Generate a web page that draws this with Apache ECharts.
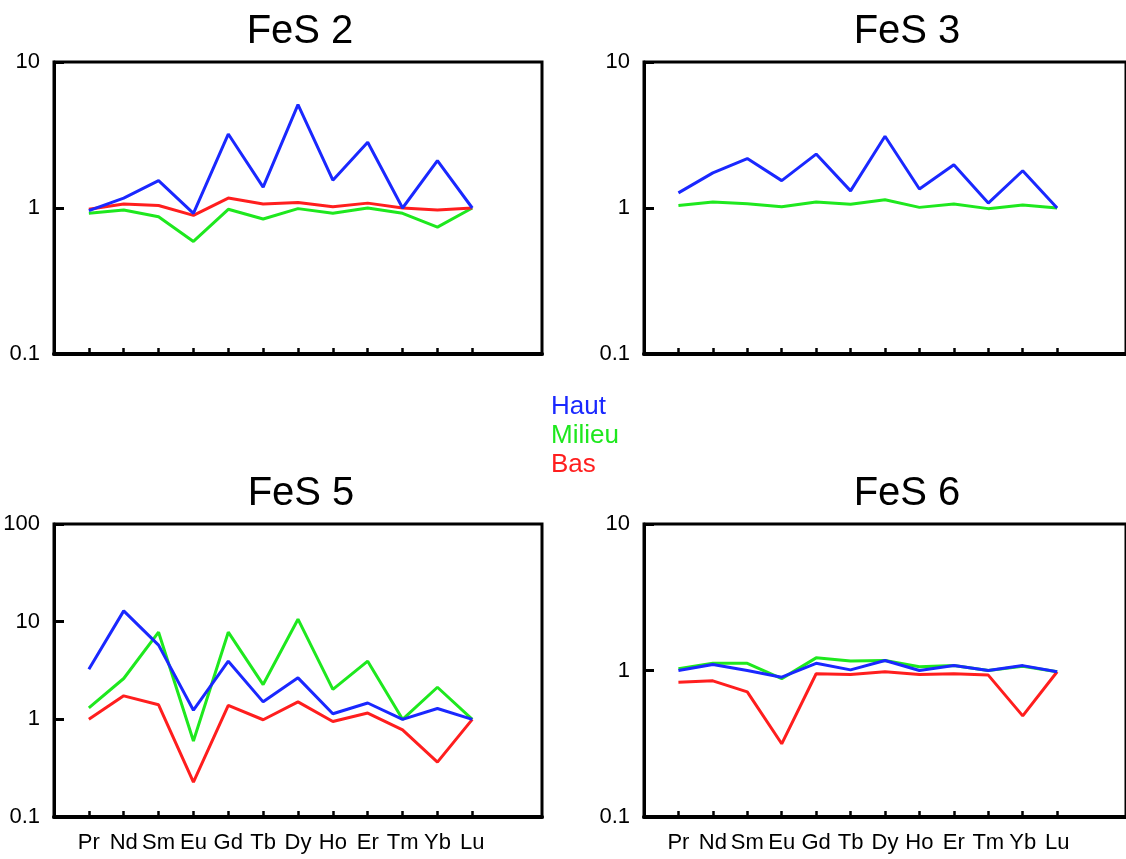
<!DOCTYPE html>
<html>
<head>
<meta charset="utf-8">
<script src="https://cdn.jsdelivr.net/npm/echarts@6/dist/echarts.min.js"></script>
<style>
html,body{margin:0;padding:0;background:#fff;}
#chart{width:1126px;height:859px;}
</style>
</head>
<body>
<div id="chart"></div>
<script>
// Categories (REE)
const categories = ['Pr','Nd','Sm','Eu','Gd','Tb','Dy','Ho','Er','Tm','Yb','Lu'];
const seriesNames = ['Haut','Milieu','Bas'];

// FeS 2
const fes2Haut   = [0.96,1.17,1.54,0.92,3.21,1.39,5.1,1.55,2.82,1.0,2.11,1.0];
const fes2Milieu = [0.92,0.97,0.87,0.59,0.98,0.84,0.99,0.92,1.0,0.92,0.74,1.0];
const fes2Bas    = [0.98,1.065,1.04,0.89,1.17,1.065,1.09,1.02,1.08,1.0,0.97,1.0];
// FeS 3
const fes3Haut   = [1.27,1.74,2.18,1.54,2.34,1.31,3.1,1.35,1.98,1.08,1.8,1.0];
const fes3Milieu = [1.04,1.1,1.07,1.02,1.1,1.06,1.14,1.01,1.065,0.99,1.05,1.0];
// FeS 5
const fes5Haut   = [3.26,12.9,5.75,1.24,3.94,1.51,2.66,1.14,1.47,1.0,1.29,1.0];
const fes5Milieu = [1.31,2.62,7.8,0.6,7.8,2.27,10.6,2.03,3.94,1.0,2.13,1.0];
const fes5Bas    = [1.0,1.74,1.41,0.227,1.39,0.99,1.51,0.95,1.16,0.78,0.365,1.0];
// FeS 6
const fes6Haut   = [1.0,1.1,1.0,0.9,1.12,1.01,1.17,1.0,1.08,1.0,1.08,0.98];
const fes6Milieu = [1.03,1.12,1.12,0.88,1.22,1.16,1.17,1.06,1.08,1.0,1.07,0.98];
const fes6Bas    = [0.83,0.85,0.715,0.316,0.95,0.94,0.98,0.94,0.95,0.93,0.49,0.98];

// Y tick extents
const yMin = [0.1, 0.1, 0.1, 0.1];
const yMax = [10, 10, 100, 10];
const titles = ['FeS 2','FeS 3','FeS 5','FeS 6'];

const colors = {Haut:'#1a28ff', Milieu:'#1ee81e', Bas:'#ff1e1e'};
const FONT = "'Liberation Sans', Arial, sans-serif";

const panels = [
  {title:titles[0], left:54,  top:62,  titleX:295, titleY:7,   ymin:yMin[0], ymax:yMax[0], showX:false,
   data:{Milieu:fes2Milieu, Bas:fes2Bas, Haut:fes2Haut}},
  {title:titles[1], left:644, top:62,  titleX:902, titleY:7,   ymin:yMin[1], ymax:yMax[1], showX:false,
   data:{Milieu:fes3Milieu, Haut:fes3Haut}},
  {title:titles[2], left:54,  top:524, titleX:296, titleY:469, ymin:yMin[2], ymax:yMax[2], showX:true,
   data:{Milieu:fes5Milieu, Bas:fes5Bas, Haut:fes5Haut}},
  {title:titles[3], left:644, top:524, titleX:902, titleY:469, ymin:yMin[3], ymax:yMax[3], showX:true,
   data:{Milieu:fes6Milieu, Bas:fes6Bas, Haut:fes6Haut}}
];

const tickPositions = categories.map((c,i)=>i+1);

const option = {
  backgroundColor:'#fff',
  animation:false,
  textStyle:{fontFamily:FONT},
  title: panels.map(p=>({
    text:p.title, left:p.titleX, top:p.titleY, textAlign:'center',
    textStyle:{fontSize:40, fontWeight:'normal', color:'#000', fontFamily:FONT}
  })),
  legend:{
    orient:'vertical', left:541, top:389, itemGap:3, itemWidth:0, itemHeight:14,
    icon:'none', selectedMode:false,
    data:seriesNames.map(n=>({name:n, textStyle:{color:colors[n]}})),
    textStyle:{fontSize:26, fontFamily:FONT}
  },
  grid: panels.map(p=>({
    left:p.left, top:p.top, width:488, height:p.top<100?292:293,
    show:true, borderColor:'#000', borderWidth:3, backgroundColor:'transparent'
  })),
  xAxis: panels.map((p,i)=>({
    type:'value', gridIndex:i, min:0, max:14,
    axisLine:{show:true, lineStyle:{color:'#000', width:4}},
    axisTick:{show:true, inside:true, length:6, lineStyle:{color:'#000', width:2.5}, customValues:tickPositions},
    axisLabel:{show:p.showX, customValues:tickPositions, formatter:v=>categories[Math.round(v)-1]||'',
      fontSize:22, color:'#000', margin:15, fontFamily:FONT},
    splitLine:{show:false}
  })),
  yAxis: panels.map((p,i)=>({
    type:'log', logBase:10, gridIndex:i, min:p.ymin, max:p.ymax,
    axisLine:{show:true, lineStyle:{color:'#000', width:3}},
    axisTick:{show:true, inside:true, length:10, lineStyle:{color:'#000', width:3}},
    minorTick:{show:false},
    axisLabel:{fontSize:22, color:'#000', margin:14, fontFamily:FONT,
      formatter:v=>v<1?Number(v).toFixed(1):String(Math.round(v))},
    splitLine:{show:false}
  })),
  series: []
};

panels.forEach((p,i)=>{
  Object.keys(p.data).forEach(name=>{
    option.series.push({
      name:name, type:'line', xAxisIndex:i, yAxisIndex:i,
      data:p.data[name].map((v,k)=>[k+1, v]),
      showSymbol:false, symbol:'none',
      lineStyle:{color:colors[name], width:3},
      itemStyle:{color:colors[name]},
      z: name==='Haut'?4:(name==='Bas'?3:2)
    });
  });
});

const chart = echarts.init(document.getElementById('chart'), null, {renderer:'canvas'});
chart.setOption(option);
</script>
</body>
</html>
